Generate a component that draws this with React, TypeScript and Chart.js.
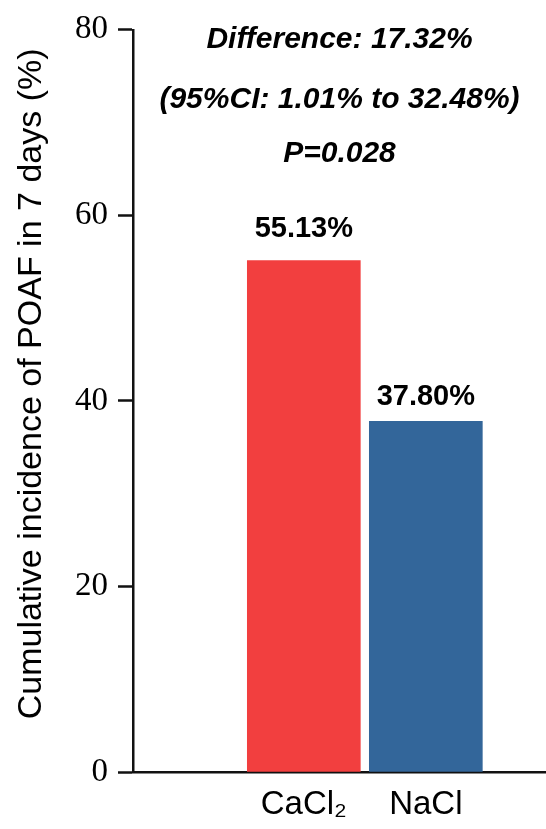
import React, { useEffect, useRef } from 'react';
import { Chart, registerables } from 'chart.js';

Chart.register(...registerables);

const categories = ['CaCl\u2082', 'NaCl'];
const incidence = [55.13, 37.8];
const yTicks = [0, 20, 40, 60, 80];
const yTitle = '\u2002\u2002Cumulative incidence of POAF in 7 days (%)';
const annotationLines = ['Difference: 17.32%', '(95%CI: 1.01% to 32.48%)', 'P=0.028'];
const barColors = ['#F23F3F', '#33669A'];

const SANS = '"Liberation Sans", Arial, Helvetica, sans-serif';
const SERIF = '"Liberation Serif", "Times New Roman", serif';
const AXIS = '#111111';

const annotationPlugin = {
  id: 'annotationText',
  afterDraw(chart: any) {
    const { ctx, chartArea } = chart;
    const cx = (chartArea.left + chartArea.right) / 2;
    const baselines = [48, 108, 162];
    ctx.save();
    ctx.font = `italic bold 30px ${SANS}`;
    ctx.fillStyle = '#000';
    ctx.textAlign = 'center';
    ctx.textBaseline = 'alphabetic';
    annotationLines.forEach((t, i) => ctx.fillText(t, cx, baselines[i]));
    ctx.restore();
  },
};

const barLabelPlugin = {
  id: 'barLabels',
  afterDatasetsDraw(chart: any) {
    const { ctx } = chart;
    const meta = chart.getDatasetMeta(0);
    const offsets = [24, 16];
    ctx.save();
    ctx.font = `bold 29px ${SANS}`;
    ctx.fillStyle = '#000';
    ctx.textAlign = 'center';
    ctx.textBaseline = 'alphabetic';
    meta.data.forEach((bar: any, i: number) => {
      ctx.fillText(incidence[i].toFixed(2) + '%', bar.x, bar.y - offsets[i]);
    });
    ctx.restore();
  },
};

export default function App() {
  const ref = useRef<HTMLCanvasElement | null>(null);

  useEffect(() => {
    if (!ref.current) return;
    const chart = new Chart(ref.current, {
      type: 'bar',
      data: {
        datasets: [
          {
            data: incidence.map((v, i) => ({ x: i + 1, y: v })) as any,
            backgroundColor: barColors,
            borderWidth: 0,
            barThickness: 113,
          },
        ],
      },
      options: {
        animation: false,
        responsive: false,
        layout: { padding: { top: 23, right: 0, left: 0, bottom: 0 } },
        plugins: { legend: { display: false }, tooltip: { enabled: false } },
        scales: {
          x: {
            type: 'linear',
            offset: false,
            min: -0.4,
            max: 2.985,
            bounds: 'data',
            afterBuildTicks: (s: any) => {
              s.ticks = categories.map((_, i) => ({ value: i + 1 }));
            },
            afterFit: (s: any) => {
              s.height = 57;
            },
            ticks: {
              autoSkip: false,
              maxRotation: 0,
              padding: 13,
              color: '#000',
              font: { family: SANS, size: 33 },
              callback: (v: any) => categories[Math.round(Number(v)) - 1] ?? '',
            },
            grid: { offset: false, drawOnChartArea: false, drawTicks: false },
            border: { display: true, color: AXIS, width: 2.5 },
          },
          y: {
            min: 0,
            max: 80,
            afterBuildTicks: (s: any) => {
              s.ticks = yTicks.map((v) => ({ value: v }));
            },
            afterFit: (s: any) => {
              s.width = 133;
            },
            ticks: {
              padding: 10,
              color: '#000',
              font: { family: SERIF, size: 33 },
            },
            grid: {
              drawOnChartArea: false,
              drawTicks: true,
              tickLength: 15,
              tickColor: AXIS,
              tickWidth: 2.5,
            },
            border: { display: true, color: AXIS, width: 2.5 },
            title: {
              display: true,
              text: yTitle,
              color: '#000',
              font: { family: SANS, size: 34 },
              padding: { top: 11, bottom: 0 },
            },
          },
        },
      } as any,
      plugins: [annotationPlugin, barLabelPlugin],
    });
    return () => chart.destroy();
  }, []);

  return (
    <div style={{ position: 'absolute', left: 0, top: 0, width: 546, height: 829, background: '#fff' }}>
      <canvas ref={ref} width={546} height={829} style={{ display: 'block' }} />
    </div>
  );
}
